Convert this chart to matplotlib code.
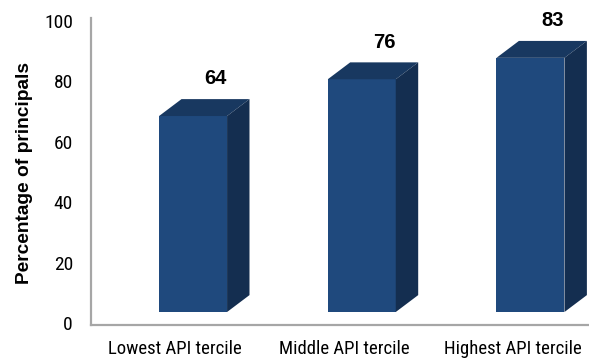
import matplotlib
matplotlib.use("Agg")
from matplotlib import pyplot as plt
from matplotlib.patches import Polygon
import numpy as np

# principals per API tercile
categories = ["Lowest API tercile", "Middle API tercile", "Highest API tercile"]
values = [64, 76, 83]

FRONT = "#1F497D"
TOP = "#183860"
SIDE = "#142E50"

plt.rcParams['font.family'] = ['Roboto Condensed', 'Liberation Sans', 'DejaVu Sans']

fig = plt.figure(figsize=(5.89, 3.63), dpi=100)
ax = fig.add_axes([91 / 589, 38 / 363, 1 - 91 / 589, 304 / 363])

x = np.arange(len(categories))
vals = np.array(values, dtype=float)

# fake 3d look: front face + top + side, floor a little above the axis
width = 0.403
depth_x = 0.133
depth_y = 5.6
floor = 3.64
stretch = 1.014

heights = vals * stretch
ax.bar(x, heights, width=width, bottom=floor, color=FRONT, zorder=3)

for xi, h in zip(x, heights):
    left = xi - width / 2
    right = xi + width / 2
    top = floor + h
    ax.add_patch(Polygon([(left, top), (right, top),
                          (right + depth_x, top + depth_y), (left + depth_x, top + depth_y)],
                         closed=True, facecolor=TOP, edgecolor='none', zorder=3))
    ax.add_patch(Polygon([(right, floor), (right + depth_x, floor + depth_y),
                          (right + depth_x, top + depth_y), (right, top)],
                         closed=True, facecolor=SIDE, edgecolor='none', zorder=3))

for xi, v, h in zip(x, values, heights):
    ax.text(xi + depth_x, floor + h + depth_y + 6.7, f"{v}", ha='center', va='center',
            fontsize=14.5, fontweight='bold', family=['Liberation Sans', 'DejaVu Sans'])

ax.set_xlim(-0.605, 2.347)
ax.set_ylim(-0.66, 100)
ax.set_yticks(np.arange(0, 101, 20))
ax.tick_params(axis='y', length=0, pad=13, labelsize=14)

# category labels sit a bit left of the bar fronts
ax.set_xticks(x - 0.105)
ax.set_xticklabels(categories)
ax.tick_params(axis='x', length=0, pad=11, labelsize=13.5)

for s in ['top', 'right']:
    ax.spines[s].set_visible(False)
for s in ['left', 'bottom']:
    ax.spines[s].set_color('#A6A6A6')
    ax.spines[s].set_linewidth(1.6)
ax.spines['left'].set_bounds(-0.66, 101)

ax.set_ylabel("Percentage of principals", fontsize=13.8, fontweight='bold',
              family=['Liberation Sans', 'DejaVu Sans'])
ax.yaxis.set_label_coords(-0.117, 0.5)

fig.savefig("out.png", dpi=100)
